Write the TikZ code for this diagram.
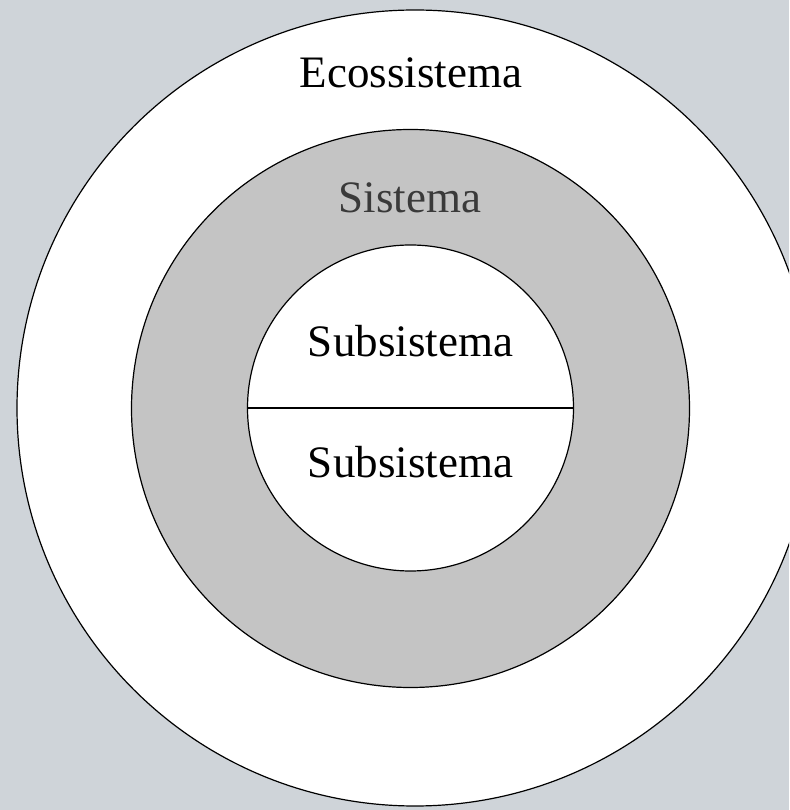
\documentclass[tikz,border=0pt]{standalone}
\usepackage{fontspec}
\setmainfont{Liberation Serif}
\usepackage{xcolor}
\definecolor{fundo}{HTML}{CFD4D9}
\definecolor{anel}{HTML}{C4C4C4}
\definecolor{textocinza}{HTML}{3A3A3A}
\tikzset{
	nivel/.style={circle,draw=black,line width=0.6pt,inner sep=0pt,outer sep=0pt},
	rotulo/.style={anchor=base,font=\fontsize{22.5}{27}\selectfont}
}

\begin{document}
\begin{tikzpicture}[line cap=round,line join=round,x=0.5pt,y=0.5pt]
		\fill[fundo] (0,0) rectangle (789,810);
		\useasboundingbox (0,0) rectangle (789,810);
		\clip (0,0) rectangle (789,810);
		\node[nivel,fill=white,minimum size=398pt] (eco) at (415,402) {};
		\node[nivel,fill=anel,minimum size=279pt] (sis) at (410.5,401.5) {};
		\node[nivel,fill=white,minimum size=163pt] (sub) at (410.5,402) {};
		\draw[line width=0.6pt] (sub.west) -- (sub.east);
		\node[rotulo] (teco) at (411,722) {Ecossistema};
		\node[rotulo,text=textocinza] (tsis) at (410,597) {Sistema};
		\node[rotulo] (tsub1) at (410.5,453) {Subsistema};
		\node[rotulo] (tsub2) at (410.5,332) {Subsistema};
	\end{tikzpicture}
\end{document}
